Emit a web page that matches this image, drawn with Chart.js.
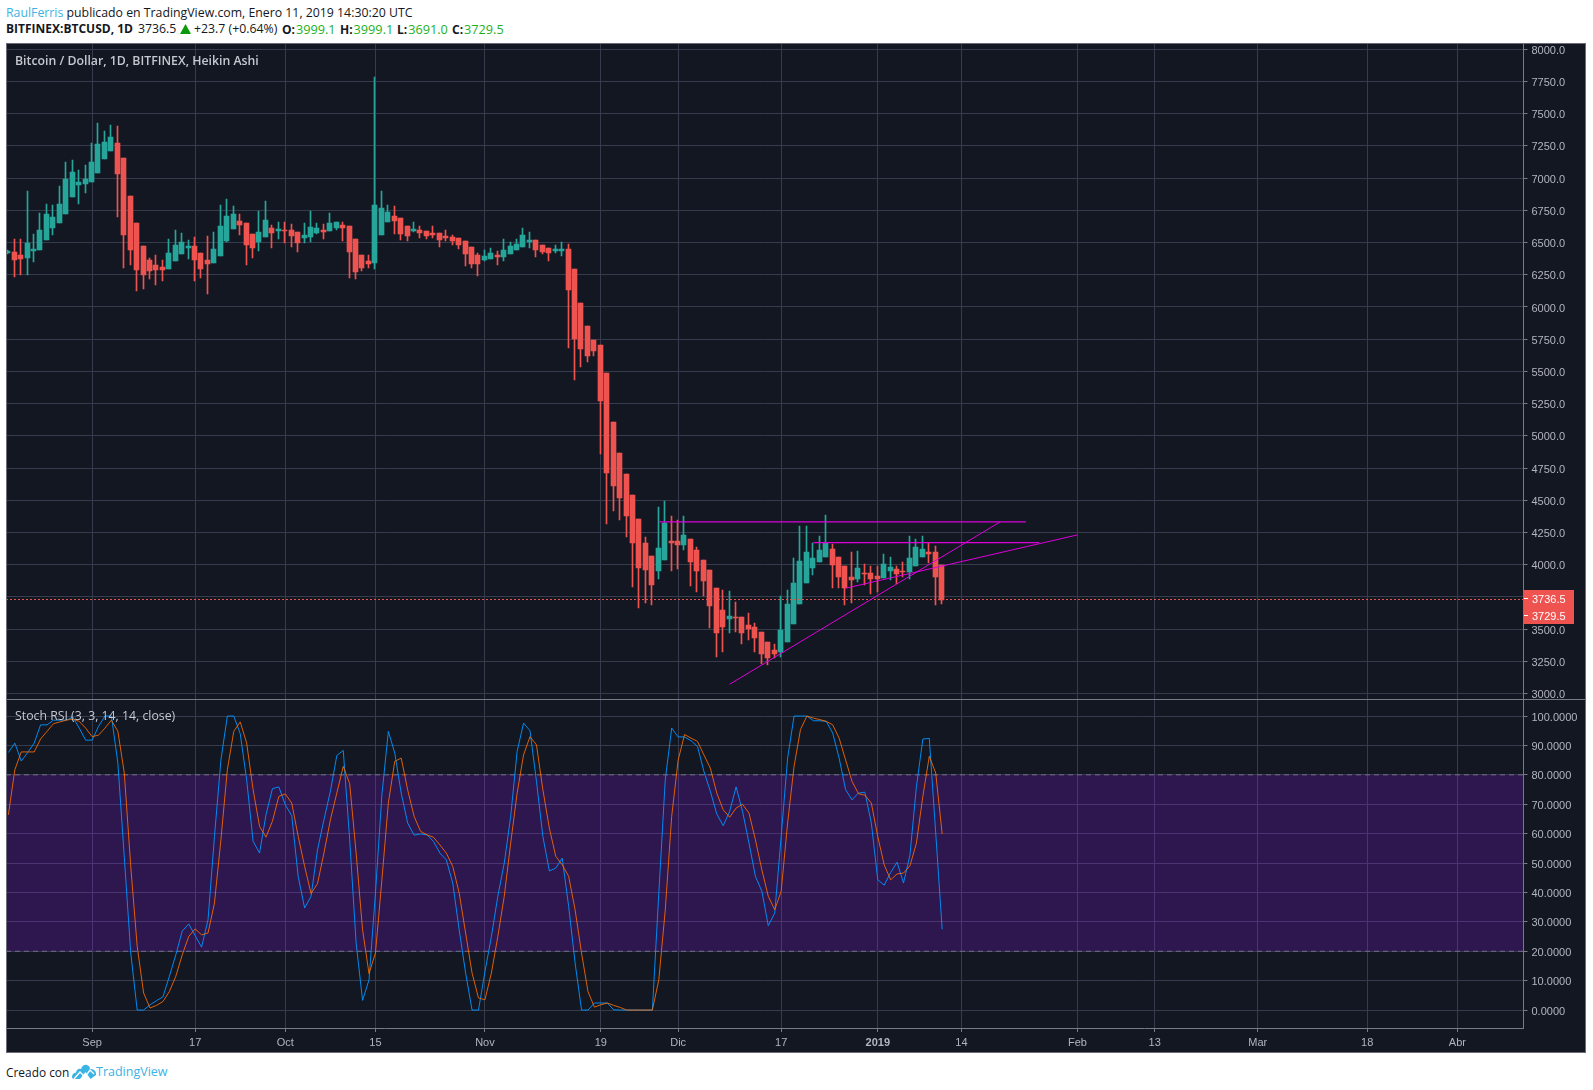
<!DOCTYPE html>
<html><head><meta charset="utf-8">
<script src="https://cdn.jsdelivr.net/npm/chart.js@4/dist/chart.umd.min.js"></script>
<style>
html,body{margin:0;padding:0;background:#fff;width:1593px;height:1090px;overflow:hidden}
#wrap{position:absolute;left:0;top:0;width:1593px;height:1090px;font-family:"Open Sans",sans-serif;font-size:12.3px;color:#131722}
.t{position:absolute;white-space:nowrap;line-height:16px}
#frame{position:absolute;left:6px;top:43px;width:1580px;height:1010px;background:#131722}
#frame canvas{position:absolute;left:0}
#border{position:absolute;left:6px;top:43px;width:1578px;height:1008px;border:1px solid #6b6e78;pointer-events:none}
#sep{position:absolute;left:6px;top:699px;width:1580px;height:1px;background:#787b86}
.g{color:#1db11d;font-size:12.7px;margin-left:1px}.b{font-weight:700;font-size:12px}
.lab{color:#c5c8d0}
#pbox{position:absolute;left:1524px;top:590px;width:50px;height:34px;background:#ef5350}
#pbox span{position:absolute;left:8px;color:#fff;font:11px "Liberation Sans",sans-serif;line-height:12px}
#pbox i{position:absolute;left:0;width:4px;height:1px;background:#fff}
</style></head><body>
<div id="wrap">
<div class="t" style="left:6px;top:5px"><span style="color:#3bb3e4">RaulFerris</span> publicado en TradingView.com, Enero 11, 2019 14:30:20 UTC</div>
<div class="t b" style="left:6px;top:21px">BITFINEX:BTCUSD, 1D</div>
<div class="t" style="left:138px;top:21px">3736.5</div>
<svg style="position:absolute;left:180px;top:24px" width="11" height="10"><polygon points="5.5,0 11,10 0,10" fill="#0a9a0a"/></svg>
<div class="t" style="left:194px;top:21px">+23.7 (+0.64%)</div>
<div class="t" style="left:282px;top:21px"><span class="b">O:</span><span class="g">3999.1</span></div>
<div class="t" style="left:340px;top:21px"><span class="b">H:</span><span class="g">3999.1</span></div>
<div class="t" style="left:397px;top:21px"><span class="b">L:</span><span class="g">3691.0</span></div>
<div class="t" style="left:452px;top:21px"><span class="b">C:</span><span class="g">3729.5</span></div>
<div id="frame">
<canvas id="priceChart" width="1580" height="656" style="top:0;width:1580px;height:656px"></canvas>
<canvas id="stochChart" width="1580" height="354" style="top:656px;width:1580px;height:354px"></canvas>
</div>
<div id="sep"></div>
<div id="border"></div>
<div class="t lab" style="left:15px;top:53px;font-size:12.3px;font-weight:600">Bitcoin / Dollar, 1D, BITFINEX, Heikin Ashi</div>
<div class="t lab" style="left:15px;top:708px;font-size:12.3px">Stoch RSI (3, 3, 14, 14, close)</div>
<div id="pbox"><i style="top:8px"></i><span style="top:3px">3736.5</span><i style="top:25px"></i><span style="top:20px">3729.5</span></div>
<div class="t" style="left:6px;top:1064px;font-size:11.9px">Creado con</div>
<svg style="position:absolute;left:72px;top:1064px" width="24" height="15" viewBox="0 0 24 15"><path d="M0 13 Q0 9 4 8.5 Q5 4 9 5 Q11 0 15 1 Q18 2 18 5 Q23 5 24 9 L24 11 L18.5 15 L13.5 8 L8 15 L3 15 Q0 15 0 13 Z" fill="#3bb3e4"/><path d="M2 15 L8 8 L13 13 L18 6 L22 10" fill="none" stroke="#fff" stroke-width="1.4"/></svg>
<div class="t" style="left:96px;top:1064px;color:#3bb3e4;font-size:12.5px">TradingView</div>
</div>
<script>
// Day numbers count from 1 Sep 2018; the first candle is 19 Aug 2018.
const firstDay = -13;
const openValues = [6419,6426,6403,6380,6434,6442,6520,6613,6652,6722,6854,6947,6954,
6970,7040,7149,7211,7273,7156,6861,6652,6473,6364,6326,6310,6295,6357,6411,6458,6473,6419,6364,6341,6395,6512,6605,6667,6652,6566,6504,6543,6613,6590,6597,6597,6582,6535,6543,6574,6597,6590,6613,6636,6628,6527,6403,6357,6341,
6558,6659,6706,6690,6628,6590,6597,6590,6574,6574,6551,6543,6535,6512,6465,6403,6364,6372,6403,6388,6411,6442,6465,6504,6520,6481,6458,6434,6434,6450,6295,6031,5852,5743,5704,
5487,5104,4863,4700,4537,4358,4172,4071,3954,4040,4187,4180,4156,4203,4117,4040,3962,3822,3652,3582,3597,3597,3535,3520,3481,3403,3341,3326,3403,3543,3698,3861,3978,4017,4063,
4122,4060,3990,3905,3889,3936,3936,3913,3897,3951,3967,3951,3944,3990,4060,4099,4099,3999.1];
const highValues = [6445,6527,6527,6900,6566,6727,6799,6791,6939,7125,7141,7063,7102,
7273,7428,7366,7413,7405,7156,6861,6652,6473,6377,6403,6364,6527,6597,6574,6520,6543,6419,6551,6582,6791,6838,6784,6722,6652,6566,6745,6822,6636,6659,6659,6644,6582,6652,6745,6652,6644,6729,6659,6659,6628,6527,6403,6403,7785,
6900,6791,6784,6690,6628,6659,6628,6590,6628,6574,6597,6558,6535,6512,6465,6419,6442,6458,6434,6527,6504,6527,6613,6582,6520,6481,6458,6481,6504,6489,6295,6031,5852,5743,5704,
5487,5104,4863,4700,4537,4358,4211,4071,4451,4498,4374,4350,4374,4203,4141,4040,3962,3822,3807,3799,3714,3597,3628,3551,3481,3403,3388,3753,3807,4048,4304,4304,4172,4226,4389,
4161,4060,3990,4099,4107,4006,3990,3990,4083,4060,3990,4021,4223,4200,4223,4169,4145,3999.1];
const lowValues = [6410,6235,6245,6248,6349,6442,6520,6558,6652,6722,6854,6799,6885,
6970,7040,7149,7211,6698,6302,6326,6124,6139,6217,6170,6201,6295,6357,6411,6372,6201,6225,6100,6341,6395,6504,6605,6558,6326,6380,6434,6543,6458,6527,6496,6465,6426,6496,6504,6566,6527,6590,6597,6512,6225,6217,6279,6302,6295,
6558,6659,6566,6520,6512,6582,6535,6527,6535,6465,6512,6481,6450,6318,6302,6240,6357,6372,6326,6357,6411,6442,6465,6458,6388,6411,6357,6419,6395,5681,5433,5534,5572,5619,4857,
4312,4420,4350,4218,3830,3667,3706,3690,3892,4040,3954,3970,4117,3838,3791,3760,3512,3287,3326,3473,3481,3388,3419,3326,3232,3225,3279,3287,3403,3543,3698,3861,3923,4017,4063,
3819,3819,3687,3703,3866,3843,3773,3788,3897,3881,3850,3905,3889,3990,4060,4013,3687,3691];
const closeValues = [6434,6364,6372,6496,6450,6597,6722,6696,6799,6993,7048,6970,6993,
7125,7265,7281,7319,7032,6558,6442,6287,6248,6279,6287,6287,6419,6481,6504,6473,6364,6295,6333,6450,6628,6706,6722,6636,6481,6458,6582,6675,6574,6605,6590,6551,6496,6558,6621,6613,6582,6652,6659,6613,6426,6271,6302,6333,6791,
6768,6737,6667,6566,6551,6605,6574,6551,6558,6520,6535,6512,6481,6411,6333,6333,6395,6419,6388,6442,6473,6489,6558,6520,6442,6426,6419,6450,6450,6131,5751,5673,5619,5658,5270,
4708,4607,4521,4374,4172,3978,3962,3846,4133,4327,4172,4149,4234,4024,3954,3877,3683,3473,3520,3605,3590,3473,3504,3434,3310,3279,3310,3496,3698,3854,4032,4102,4055,4117,4172,
3998,3905,3819,3881,3975,3928,3889,3889,4006,3982,3928,3944,4052,4138,4122,4083,3905,3729.5];
const stochK = [87.6,90.8,84.7,87.6,90.8,97,97,98.6,98.6,98.6,99.7,95.9,91.8,
91.8,96.5,100,100,84,52,19.4,0,0,1.8,3.2,4.5,11.5,18.8,26.9,29.3,25.3,21.4,30.7,59,85,100,100,94,78.3,57.4,53.4,66.4,75.3,75.9,69.8,66.1,45.5,34.7,38.7,54.5,64.7,74.4,86.6,88.3,57.9,22.8,3.3,10.3,39.8,
73.2,94.8,87.4,73.8,63.6,59.5,59.9,59.6,57.4,53.4,51.1,43.2,27.3,12.6,0,0,
13,25,38.7,50,65.9,88,97.6,95,77.8,59,47.3,48.3,51.7,35.3,16,0,0,2.4,2.4,2.4,0.1,0,0,0,0,0,0,
39.8,78.3,95.9,92.9,92.9,91.6,89.7,81.2,74.4,66.7,62.7,67.6,75.9,67.6,56.8,45.5,40.4,28.7,33,59,85.7,100,100,100,98.4,98.4,98.2,
94.2,85.7,75,71.5,73.8,74.1,63.6,44.3,42.5,46.8,50.3,43.2,52.8,76,92.2,92.4,60.2,27.5];
const stochD = [66.4,81.7,87.8,87.8,87.8,92.2,94.8,97.4,98,98.6,99,98.2,95.9,
93,93.5,95.9,98.6,94.8,80.6,48.9,21.7,5.8,0.7,1.6,2.9,6.3,11.5,18.8,25,27.6,25.6,26.2,36.4,57.9,81.7,94.8,98,90.8,75,62.5,58.8,64.2,72.7,73.5,70.4,59.1,48.9,39.6,43,53.4,64.7,73.8,82.9,77,53.4,27.3,12.4,19.4,
44.3,70.4,84.6,85.7,74.9,65.9,60.8,59.6,58.8,56.2,53.4,48.9,39.8,26.2,12.6,4.1,
3.5,12.6,25,38.7,56.8,73.8,86.8,93,90.2,74.9,61.9,52.3,49.4,45.5,34.1,19.4,6.3,1,1.8,2.4,1.6,0.9,0,0,0,0,0,
10.3,34,65.9,85,93.7,92.5,91.4,86.8,82.3,73.8,68.1,65.6,68.7,70,67,57.9,47.7,38.7,34.1,40.4,63.6,82.9,95.4,100,99.3,98.8,98.2,
97,92.5,85.1,77.8,73.6,73.1,70.4,59,49.4,44.3,46.3,46.6,49.1,56.8,72.7,86.3,80.6,59.9];
const tickDays = [0,16,30,44,61,79,91,107,122,135,153,165,181,198,212];
const tickLabels = ['Sep','17','Oct','15','Nov','19','Dic','17','2019','14','Feb','13','Mar','18','Abr'];
const priceTicks = [3000,3250,3500,3750,4000,4250,4500,4750,5000,5250,5500,5750,6000,6250,6500,6750,7000,7250,7500,7750,8000];
const stochTicks = [0,10,20,30,40,50,60,70,80,90,100];
const resistance1 = [[88,4332],[145,4332]];
const resistance2 = [[112,4171],[147,4171]];
const support1 = [[99,3072],[141,4332]];
const support2 = [[117,3817],[153,4231]];
const lastClose = 3729.5;
const bandTop = 80, bandBottom = 20;

const GRID='#363c4e', AXIS='#787b86', TXT='#b2b5be', GREEN='#26a69a', RED='#ef5350', MAG='#dd00dd';
const XMIN=-13.37, XMAX=222.27, AXISW=62.5;
Chart.defaults.animation=false;
Chart.defaults.font.family='"Liberation Sans",Arial,sans-serif';
Chart.defaults.font.size=11;
Chart.defaults.color=TXT;

const candleDays = openValues.map((_,i)=>firstDay+i);
const candleColors = openValues.map((o,i)=>closeValues[i]>=o?GREEN:RED);
const pts = a=>a.map(p=>({x:p[0],y:p[1]}));
const noPad=s=>{s.paddingTop=s.paddingBottom=s.paddingLeft=s.paddingRight=0;};
const snap={id:'snap',beforeDatasetDraw(c,args){
  const m=args.meta; if(m.type!=='bar')return;
  m.data.forEach(el=>{
    el.x=Math.floor(el.x-0.6)+0.5;
    let t=Math.round(Math.min(el.y,el.base)),b=Math.round(Math.max(el.y,el.base));
    if(b-t<1)b=t+1;
    el.y=t;el.base=b;
  });
}};
function xScale(show){return {type:'linear',min:XMIN,max:XMAX,offset:false,
  afterBuildTicks(s){s.ticks=tickDays.map(v=>({value:v}));},
  afterFit(s){s.height=show?25:0;noPad(s);},
  border:{color:AXIS,width:1},
  grid:{color:GRID,offset:false,drawTicks:show,tickLength:4,tickColor:AXIS},
  ticks:{display:show,autoSkip:false,maxRotation:0,minRotation:0,padding:4,color:TXT,
    callback(v){const i=tickDays.indexOf(v);return i<0?'':tickLabels[i];},
    font(ctx){const i=tickDays.indexOf(ctx.tick&&ctx.tick.value);return {size:11,weight:tickLabels[i]==='2019'?'bold':'normal'};}}
};}
function yScale(min,max,ticks,dec){return {type:'linear',position:'right',min,max,
  afterBuildTicks(s){s.ticks=ticks.map(v=>({value:v}));},
  afterFit(s){s.width=AXISW;noPad(s);},
  border:{color:AXIS,width:1},
  grid:{color:GRID,tickLength:4,tickColor:AXIS},
  ticks:{autoSkip:false,padding:4,labelOffset:1.5,color:TXT,callback:v=>v.toFixed(dec)}
};}
const opts=(y,show)=>({responsive:false,devicePixelRatio:1,maintainAspectRatio:false,
  layout:{padding:0,autoPadding:false},
  plugins:{legend:{display:false},tooltip:{enabled:false}},
  scales:{x:xScale(show),y}
});
const line=(data,color,extra)=>Object.assign({type:'line',data:pts(data),borderColor:color,borderWidth:1,pointRadius:0,tension:0,fill:false},extra||{});

new Chart(document.getElementById('priceChart'),{
  plugins:[snap],
  data:{datasets:[
    line(resistance1,MAG,{order:1,borderWidth:1.2}),
    line(resistance2,MAG,{order:1,borderWidth:1.2}),
    line(support1,MAG,{order:1}),
    line(support2,MAG,{order:1}),
    line([[XMIN,lastClose],[XMAX,lastClose]],RED,{order:2,borderDash:[2,2]}),
    {type:'bar',order:3,grouped:false,barThickness:5,backgroundColor:candleColors,
      data:candleDays.map((d,i)=>({x:d,y:[openValues[i],closeValues[i]]}))},
    {type:'bar',order:4,grouped:false,barThickness:1,backgroundColor:candleColors,
      data:candleDays.map((d,i)=>({x:d,y:[lowValues[i],highValues[i]]}))}
  ]},
  options:opts(yScale(2957.4,8048.9,priceTicks,1),false)
});
new Chart(document.getElementById('stochChart'),{
  data:{datasets:[
    line(candleDays.map((d,i)=>[d,stochK[i]]),'rgba(0,148,255,0.92)',{order:1}),
    line(candleDays.map((d,i)=>[d,stochD[i]]),'rgba(255,109,0,0.85)',{order:0}),
    line([[XMIN,bandTop],[XMAX,bandTop]],'rgba(120,123,134,0.9)',{order:2,borderDash:[5,4],fill:'+1',backgroundColor:'rgba(153,21,255,0.2)'}),
    line([[XMIN,bandBottom],[XMAX,bandBottom]],'rgba(120,123,134,0.9)',{order:2,borderDash:[5,4]})
  ]},
  options:opts(yScale(-6.1,105.8,stochTicks,4),true)
});
</script>
</body></html>
